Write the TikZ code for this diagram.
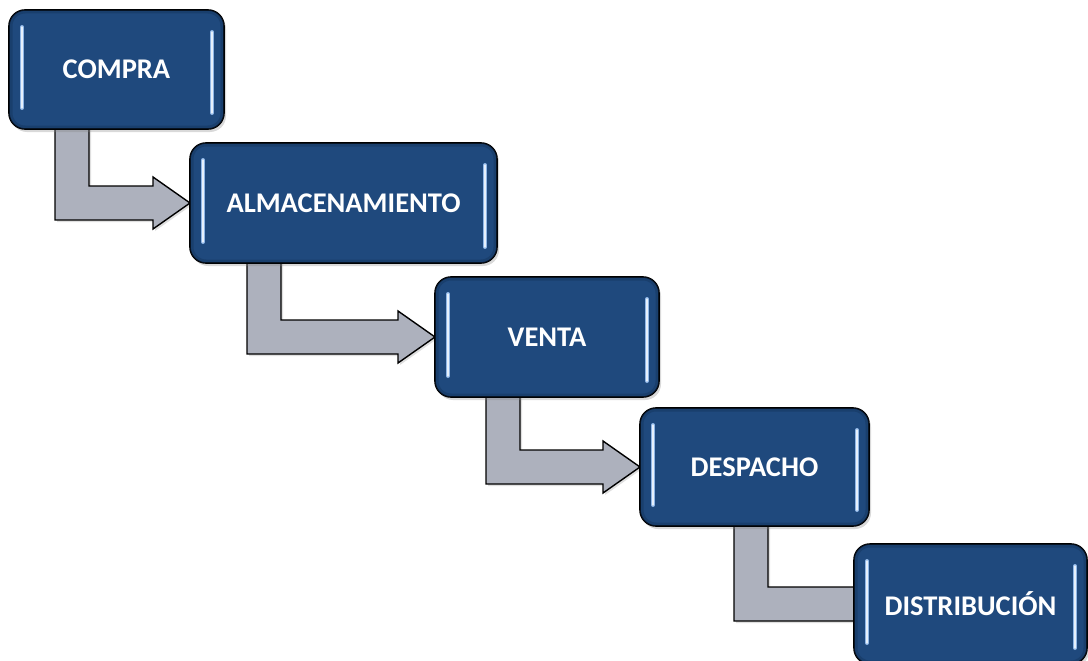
\documentclass[tikz,border=0pt]{standalone}
\usepackage{fontspec}
\setmainfont{Carlito}
\usetikzlibrary{calc,shadows}
\pgfdeclarelayer{bg}
\pgfsetlayers{bg,main}
\definecolor{boxblue}{HTML}{1F497D}
\definecolor{rimblue}{HTML}{123056}
\definecolor{hlblue}{HTML}{8FB6E6}
\definecolor{hlcore}{HTML}{E6F0FC}
\definecolor{arrgray}{HTML}{ADB1BD}
\tikzset{
  stage/.style={draw=black, line width=1.6pt, fill=boxblue, rounded corners=16pt,
    text=white, font=\bfseries\fontsize{28.5}{30}\selectfont, inner sep=0pt, outer sep=0pt,
    drop shadow={shadow xshift=2pt, shadow yshift=-3pt, opacity=0.3}},
  hl/.style={hlblue, line width=4pt, line cap=round},
  hlc/.style={hlcore, line width=1.5pt, line cap=round},
  rim/.style={rimblue, line width=7pt, opacity=0.4, rounded corners=16pt},
  flow/.style={draw=black, line width=1.4pt, fill=arrgray, line join=miter,
    drop shadow={shadow xshift=2pt, shadow yshift=-2pt, opacity=0.25}}
}
\newcommand{\bentarrow}[4]{%
  \draw[flow] let \p1=(#1.south), \p2=(#2.west) in
    (#3pt,\y1+6pt) -- (#3pt+34pt,\y1+6pt) -- (#3pt+34pt,\y2+17pt)
    -- (\x2+#4pt-37pt,\y2+17pt) -- (\x2+#4pt-37pt,\y2+26pt) -- (\x2+#4pt,\y2)
    -- (\x2+#4pt-37pt,\y2-26pt) -- (\x2+#4pt-37pt,\y2-17pt) -- (#3pt,\y2-17pt) -- cycle;}
\begin{document}
\begin{tikzpicture}[x=1pt,y=1pt]
\useasboundingbox (0,0) rectangle (1088,-661);
\node[stage, minimum width=215pt, minimum height=119pt] (compra) at (116.5,-69.5) {COMPRA};
\node[stage, minimum width=307pt, minimum height=120pt] (alma) at (343.5,-203) {ALMACENAMIENTO};
\node[stage, minimum width=224pt, minimum height=120pt] (venta) at (547,-337) {VENTA};
\node[stage, minimum width=229pt, minimum height=118pt] (despacho) at (754.5,-467) {DESPACHO};
\node[stage, minimum width=233pt, minimum height=120pt] (distr) at (970.5,-604) {DISTRIBUCIÓN};
\foreach \n in {compra,alma,venta,despacho,distr}{
  \begin{scope}
    \clip[rounded corners=16pt] (\n.south west) rectangle (\n.north east);
    \draw[rim] (\n.south west) rectangle (\n.north east);
  \end{scope}
  \draw[hl] ($(\n.north west)+(13,-17)$) -- ($(\n.south west)+(13,21)$);
  \draw[hlc] ($(\n.north west)+(13,-17)$) -- ($(\n.south west)+(13,21)$);
  \draw[hl] ($(\n.north east)+(-12,-22)$) -- ($(\n.south east)+(-12,16)$);
  \draw[hlc] ($(\n.north east)+(-12,-22)$) -- ($(\n.south east)+(-12,16)$);
}
\begin{pgfonlayer}{bg}
\bentarrow{compra}{alma}{55}{0}
\bentarrow{alma}{venta}{247}{0}
\bentarrow{venta}{despacho}{486}{0}
\bentarrow{despacho}{distr}{734}{45}
\end{pgfonlayer}
\end{tikzpicture}
\end{document}
